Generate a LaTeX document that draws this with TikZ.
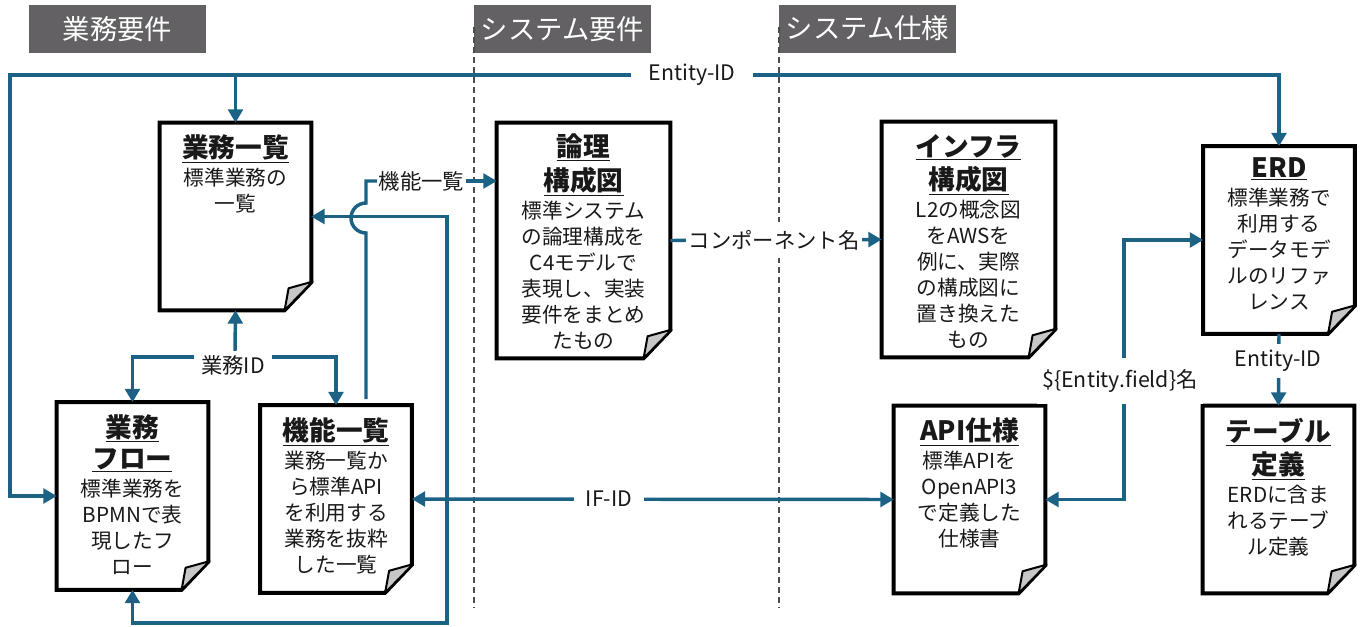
\documentclass[tikz,border=0pt]{standalone}
\usepackage{fontspec}
\setmainfont{Noto Sans CJK JP}
\usetikzlibrary{arrows.meta}
\definecolor{hdrgray}{RGB}{99,97,100}
\definecolor{linkblue}{RGB}{27,98,133}
\newcommand{\doctitle}[1]{{\fontsize{20}{23}\selectfont\bfseries\underline{#1}}}

\begin{document}
\begin{tikzpicture}
[x=0.75pt, y=-0.75pt, font=\fontsize{15.5}{19.5}\selectfont,
>={Triangle[length=10pt,width=11pt]},
hdr/.style={rectangle, fill=hdrgray, text=white, inner sep=0pt, minimum width=132.75pt, minimum height=36pt, font=\fontsize{20.5}{23}\selectfont},
lane/.style={draw=black!70, line width=1.2pt, dash pattern=on 4.5pt off 3pt},
doc/.style={rectangle, inner sep=0pt, minimum width=113.25pt, minimum height=140.25pt},
docbig/.style={doc, minimum width=129.75pt, minimum height=176.25pt},
doctext/.style={anchor=north, inner sep=0pt, align=center, text=black!90},
docline/.style={draw=black, line width=3pt, line join=miter},
fold/.style={draw=black, fill=black!22, line width=1.5pt, line join=round},
link/.style={draw=linkblue, line width=2.6pt},
lbl/.style={fill=white, text=black!90, inner xsep=4pt, inner ysep=3pt, font=\fontsize{16}{19.5}\selectfont}]

% lanes
\useasboundingbox (0,0) rectangle (1365,626);
\node[hdr] (hdrbiz) at (117.5,29) {業務要件};
\node[hdr] (hdrsysreq) at (562.5,29) {システム要件};
\node[hdr] (hdrsysspec) at (867.5,28.5) {システム仕様};
\draw[lane] (474,27) -- (474,608);
\draw[lane] (779,27) -- (779,608);

% documents
\node[doc] (list) at (235.5,216.5) {};
\node[doc] (flow) at (132.5,496) {};
\node[doc] (func) at (336,499) {};
\node[docbig] (logic) at (583.5,240.5) {};
\node[docbig] (infra) at (968.5,239.5) {};
\node[doc] (erd) at (1279,240) {};
\node[doc] (api) at (969.5,499.5) {};
\node[doc] (table) at (1278.5,499.5) {};

\foreach \d in {list,flow,func,logic,infra,erd,api,table} {
  \draw[docline] (\d.north west) -- (\d.north east) -- ([yshift=21pt]\d.south east) -- ([xshift=-20pt]\d.south east) -- (\d.south west) -- cycle;
  \draw[fold] ([shift={(1pt,21.5pt)}]\d.south east) -- ([shift={(-17pt,16.5pt)}]\d.south east) -- ([xshift=-20pt]\d.south east) -- cycle;
}

\node[doctext] (listtxt) at ([yshift=-9pt]list.north) {\doctitle{業務一覧}\\[1.5pt]標準業務の\\一覧};
\node[doctext] (flowtxt) at ([yshift=-9pt]flow.north) {\doctitle{業務}\\[3.5pt]\doctitle{フロー}\\[1.5pt]標準業務を\\BPMNで表\\現したフ\\ロー};
\node[doctext] (functxt) at ([yshift=-9pt]func.north) {\doctitle{機能一覧}\\[1.5pt]業務一覧か\\ら標準API\\を利用する\\業務を抜粋\\した一覧};
\node[doctext] (logictxt) at ([yshift=-8pt]logic.north) {\doctitle{論理}\\[3.5pt]\doctitle{構成図}\\[1.5pt]標準システム\\の論理構成を\\C4モデルで\\表現し、実装\\要件をまとめ\\たもの};
\node[doctext] (infratxt) at ([yshift=-9pt]infra.north) {\doctitle{インフラ}\\[3.5pt]\doctitle{構成図}\\[1.5pt]L2の概念図\\をAWSを\\例に、実際\\の構成図に\\置き換えた\\もの};
\node[doctext] (erdtxt) at ([yshift=-8pt]erd.north) {\doctitle{ERD}\\[1.5pt]標準業務で\\利用する\\データモデ\\ルのリファ\\レンス};
\node[doctext] (apitxt) at ([yshift=-9pt]api.north) {\doctitle{API仕様}\\[1.5pt]標準APIを\\OpenAPI3\\で定義した\\仕様書};
\node[doctext] (tabletxt) at ([yshift=-9pt]table.north) {\doctitle{テーブル}\\[3.5pt]\doctitle{定義}\\[1.5pt]ERDに含ま\\れるテーブ\\ル定義};

% connectors
\coordinate (entL) at (10,75);
\draw[link,<->] (flow.west) -| (entL) -| (erd.north);
\draw[link,->] (entL -| list.north) -- (list.north);
\node[lbl, inner xsep=13pt] (entlbl) at (692,75) {Entity-ID};

\coordinate (idrow) at (235,357);
\node[lbl, inner xsep=5pt, fill=none] (idlbl) at (233,365) {業務ID};
\draw[link,->] (idrow |- idlbl.north) -- (list.south);
\draw[link,->] (idlbl.west |- idrow) -| (flow.north);
\draw[link,->] (idlbl.east |- idrow) -| (func.north);

\coordinate (retR) at (447,623);
\draw[link,<->] (list.east) -| (retR) -| (flow.south);

\node[lbl, inner xsep=1pt, fill=none] (fnlbl) at (421.5,181) {機能一覧};
\draw[link] ([xshift=22.5pt,yshift=4.5pt]func.north) -- (366,233) arc[start angle=-90, end angle=-270, radius=11.25pt] |- (fnlbl.west);
\draw[link,->] (fnlbl.east) -- (logic.west |- fnlbl);

\draw[link,<->] (func.east) -- (api.west);
\node[lbl, inner xsep=9pt] (iflbl) at (609,499) {IF-ID};

\draw[link,->] (logic.east) -- (infra.west);
\node[lbl, inner xsep=2pt, inner ysep=6pt] (cmplbl) at (774,240) {コンポーネント名};

\coordinate (fldcol) at (1124,380);
\draw[link,<->] (api.east) -| (fldcol) |- (erd.west);
\node[lbl, inner ysep=9pt] (fldlbl) at (1120,381) {\$\{Entity.field\}名};

\draw[link,->] (erd.south) -- (table.north);
\node[lbl, inner ysep=5pt] (ent2lbl) at (1278,361) {Entity-ID};
\end{tikzpicture}
\end{document}
